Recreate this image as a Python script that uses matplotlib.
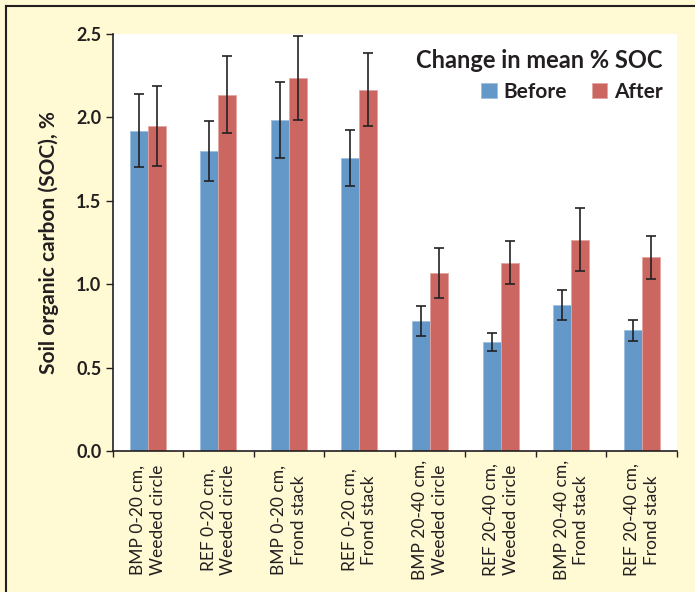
import numpy as np
import matplotlib
matplotlib.use("Agg")
import matplotlib.pyplot as plt
from matplotlib.lines import Line2D

categories = [
    "BMP 0-20 cm,\nWeeded circle",
    "REF 0-20 cm,\nWeeded circle",
    "BMP 0-20 cm,\nFrond stack",
    "REF 0-20 cm,\nFrond stack",
    "BMP 20-40 cm,\nWeeded circle",
    "REF 20-40 cm,\nWeeded circle",
    "BMP 20-40 cm,\nFrond stack",
    "REF 20-40 cm,\nFrond stack",
]
before = [1.92, 1.80, 1.985, 1.757, 0.779, 0.652, 0.877, 0.723]
before_err = [0.22, 0.18, 0.23, 0.17, 0.09, 0.055, 0.09, 0.065]
after = [1.95, 2.136, 2.236, 2.166, 1.069, 1.129, 1.267, 1.161]
after_err = [0.24, 0.23, 0.25, 0.22, 0.15, 0.13, 0.19, 0.13]
yticks = [0.0, 0.5, 1.0, 1.5, 2.0, 2.5]

plt.rcParams['font.family'] = ['Lato', 'DejaVu Sans']

cream = '#FFFAD4'
blue = '#6398C9'
red = '#CC6660'
txt = '#231F20'

fig = plt.figure(figsize=(6.95, 5.92), dpi=100, facecolor=cream)
ax = fig.add_axes([112.5/695, 1-451/592, (677-112.5)/695, (451-34)/592])
ax.set_facecolor('white')

x = np.arange(len(categories))
w = 0.255
err_kw = dict(ecolor='#222222', elinewidth=1.2, capsize=3.5, capthick=1.2)
ax.bar(x - w/2, before, w, yerr=before_err, color=blue, edgecolor='#9dbfe0',
       linewidth=0.6, error_kw=err_kw, label='Before')
ax.bar(x + w/2, after, w, yerr=after_err, color=red, edgecolor='#e3a5a1',
       linewidth=0.6, error_kw=err_kw, label='After')

ax.set_xlim(-0.5, len(categories) - 0.5)
ax.set_ylim(0, 2.5)
ax.set_yticks(yticks)
ax.set_yticklabels([f"{v:.1f}" for v in yticks])
ax.set_xticks(np.arange(len(categories) + 1) - 0.5)
ax.set_xticklabels([])
for s in ['top', 'right']:
    ax.spines[s].set_visible(False)
for s in ['left', 'bottom']:
    ax.spines[s].set_color('#231F20')
    ax.spines[s].set_linewidth(1.2)
ax.tick_params(axis='y', length=5, width=1.0, color=txt, pad=3,
               labelsize=13, labelcolor=txt)
ax.tick_params(axis='x', length=4, width=1.0, color=txt)
for lab in ax.get_yticklabels():
    lab.set_fontweight('bold')

for i, c in enumerate(categories):
    ax.text(i, -0.165, c, transform=ax.get_xaxis_transform(), rotation=90,
            ha='center', va='center', multialignment='center',
            fontsize=12.5, color=txt, linespacing=1.3)

ax.set_ylabel('Soil organic carbon (SOC), %', fontsize=15, fontweight='bold',
              color=txt, labelpad=12)

leg = ax.legend(loc='upper right', ncol=2, frameon=False,
                title='Change in mean % SOC', alignment='right',
                title_fontproperties={'weight': 'bold', 'size': 17},
                prop={'weight': 'bold', 'size': 15},
                handlelength=0.75, handleheight=0.75, handletextpad=0.3,
                columnspacing=1.2, borderaxespad=0.3)
for t in leg.get_texts():
    t.set_color(txt)
leg.get_title().set_color(txt)

fig.add_artist(Line2D([6/695, 1], [1-6/592, 1-6/592], color='#231F20', lw=1.5))
fig.add_artist(Line2D([6/695, 6/695], [0, 1-6/592], color='#231F20', lw=1.5))

fig.savefig('out.png', dpi=100, facecolor=cream)
